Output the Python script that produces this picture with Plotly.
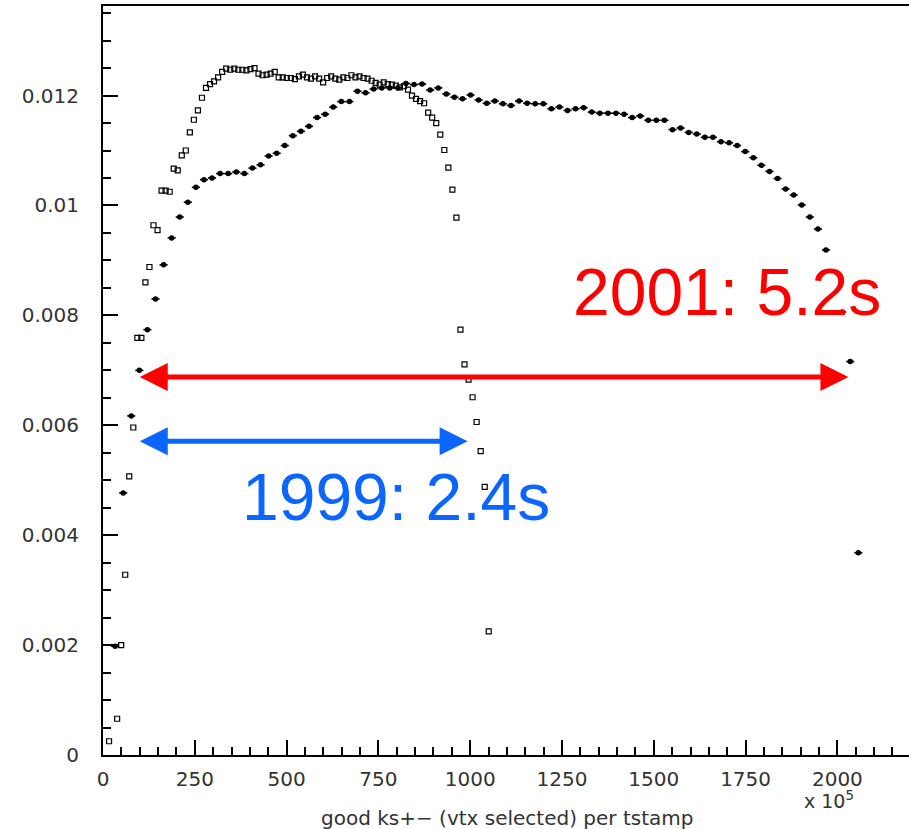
import plotly.graph_objects as go

# ---------------------------------------------------------------------------
# Data: normalised distribution of good K_S -> pi+ pi- (vertex selected)
# per timestamp, x in units of 1e5.  Bin contents listed from bin index 1.
# ---------------------------------------------------------------------------
bin_width_1999 = 11.0
bin_width_2001 = 22.0

y_1999 = [
    0.00025, None, 0.00066, 0.00200, 0.00328, 0.00507, 0.00596, 0.00759, 0.00759, 0.00860,
    0.00888, 0.00964, 0.00955, 0.01027, 0.01027, 0.01025, 0.01067, 0.01064, 0.01091, 0.01100,
    0.01133, 0.01156, 0.01173, 0.01196, 0.01214, 0.01221, 0.01226, 0.01233, 0.01243, 0.01249,
    0.01247, 0.01249, 0.01247, 0.01247, 0.01246, 0.01248, 0.01250, 0.01240, 0.01237, 0.01238,
    0.01240, 0.01243, 0.01233, 0.01233, 0.01232, 0.01232, 0.01230, 0.01235, 0.01238, 0.01233,
    0.01231, 0.01235, 0.01231, 0.01224, 0.01232, 0.01235, 0.01231, 0.01229, 0.01233, 0.01232,
    0.01237, 0.01233, 0.01235, 0.01232, 0.01231, 0.01227, 0.01223, 0.01220, 0.01224, 0.01221,
    0.01220, 0.01218, 0.01215, 0.01217, 0.01211, 0.01200, 0.01194, 0.01190, 0.01186, 0.01169,
    0.01160, 0.01150, 0.01129, 0.01101, 0.01069, 0.01029, 0.00978, 0.00774, 0.00711, 0.00683,
    0.00651, 0.00606, 0.00553, 0.00488, 0.00225,
]

y_2001 = [
    0.00198, 0.00477, 0.00617, 0.00700, 0.00774, 0.00830, 0.00892, 0.00941, 0.00979, 0.01006,
    0.01033, 0.01047, 0.01050, 0.01058, 0.01058, 0.01061, 0.01058, 0.01068, 0.01074, 0.01090,
    0.01095, 0.01109, 0.01127, 0.01135, 0.01144, 0.01160, 0.01166, 0.01179, 0.01189, 0.01189,
    0.01208, 0.01205, 0.01212, 0.01214, 0.01214, 0.01214, 0.01222, 0.01220, 0.01221, 0.01210,
    0.01214, 0.01203, 0.01197, 0.01194, 0.01201, 0.01192, 0.01186, 0.01190, 0.01185, 0.01182,
    0.01190, 0.01186, 0.01185, 0.01185, 0.01176, 0.01179, 0.01173, 0.01176, 0.01178, 0.01170,
    0.01168, 0.01168, 0.01168, 0.01166, 0.01160, 0.01163, 0.01155, 0.01155, 0.01155, 0.01138,
    0.01141, 0.01133, 0.01130, 0.01124, 0.01124, 0.01116, 0.01114, 0.01109, 0.01098, 0.01087,
    0.01073, 0.01062, 0.01049, 0.01030, 0.01019, 0.01001, 0.00979, 0.00957, 0.00919, None,
    0.00806, 0.00716, 0.00368,
]

xtick_vals = [0, 250, 500, 750, 1000, 1250, 1500, 1750, 2000]
xtick_text = ["0", "250", "500", "750", "1000", "1250", "1500", "1750", "2000"]
ytick_vals = [0, 0.002, 0.004, 0.006, 0.008, 0.010, 0.012]
ytick_text = ["0", "0.002", "0.004", "0.006", "0.008", "0.01", "0.012"]

# arrows marking the usable spill length of each run: (x_start, x_end, y)
arrow_2001 = (100, 2030, 0.00688)
arrow_1999 = (100, 993, 0.00571)
label_2001 = ("2001: 5.2s", 1698, 0.00842)
label_1999 = ("1999: 2.4s", 799, 0.00469)

RED = "#ff0000"
BLUE = "#0a66ff"


def bin_points(values, width):
    xs, ys = [], []
    for i, v in enumerate(values, start=1):
        if v is not None:
            xs.append(width * (i + 0.5))
            ys.append(v)
    return xs, ys


x99, v99 = bin_points(y_1999, bin_width_1999)
x01, v01 = bin_points(y_2001, bin_width_2001)

fig = go.Figure()

fig.add_trace(go.Scatter(
    x=x01, y=v01, mode="markers",
    marker=dict(symbol="circle", size=5.5, color="black"),
    error_x=dict(type="constant", value=bin_width_2001 / 2, thickness=1.6,
                 width=0, color="black"),
    showlegend=False, cliponaxis=False,
))

fig.add_trace(go.Scatter(
    x=x99, y=v99, mode="markers",
    marker=dict(symbol="square-open", size=5, color="black",
                line=dict(width=1.2, color="black")),
    showlegend=False, cliponaxis=False,
))

# scale factors to size the arrow heads in pixels
X_RANGE = (0, 2195)
Y_RANGE = (0, 0.01363)
PLOT_W, PLOT_H = 806, 749
ux = (X_RANGE[1] - X_RANGE[0]) / PLOT_W
uy = (Y_RANGE[1] - Y_RANGE[0]) / PLOT_H
HEAD_LEN, HEAD_HALF = 28, 14


def add_double_arrow(x0, x1, y, color):
    fig.add_shape(type="line", x0=x0 + HEAD_LEN * ux * 0.5, x1=x1 - HEAD_LEN * ux * 0.5,
                  y0=y, y1=y, line=dict(color=color, width=5))
    hl, hh = HEAD_LEN * ux, HEAD_HALF * uy
    left = f"M {x0},{y} L {x0 + hl},{y + hh} L {x0 + hl},{y - hh} Z"
    right = f"M {x1},{y} L {x1 - hl},{y + hh} L {x1 - hl},{y - hh} Z"
    for p in (left, right):
        fig.add_shape(type="path", path=p, fillcolor=color,
                      line=dict(color=color, width=0))


add_double_arrow(*arrow_2001, RED)
add_double_arrow(*arrow_1999, BLUE)

big_font = "Liberation Sans"
for (txt, lx, ly), col in ((label_2001, RED), (label_1999, BLUE)):
    fig.add_annotation(x=lx, y=ly, text=txt, showarrow=False,
                       xanchor="center", yanchor="middle",
                       font=dict(family=big_font, size=66, color=col))

tick_font = dict(family="DejaVu Sans", size=20, color="#333333")

fig.add_annotation(xref="paper", yref="paper", x=0.501, y=-0.0845,
                   text="good ks+\u2212 (vtx selected) per tstamp", showarrow=False,
                   xanchor="center", yanchor="middle",
                   font=dict(family="DejaVu Sans", size=20, color="#333333"))
fig.add_annotation(xref="paper", yref="paper", x=0.9007, y=-0.0600,
                   text="x 10<sup>5</sup>", showarrow=False,
                   xanchor="center", yanchor="middle",
                   font=dict(family="DejaVu Sans", size=19, color="#333333"))

axis_common = dict(
    showline=True, linecolor="black", linewidth=2,
    ticks="inside", tickcolor="black", tickwidth=1.5, ticklen=15,
    showgrid=False, zeroline=False, tickfont=tick_font,
)

fig.update_xaxes(
    range=list(X_RANGE), tickvals=xtick_vals, ticktext=xtick_text,
    mirror=True, ticklabelstandoff=5,
    minor=dict(ticks="inside", ticklen=8, tickwidth=1.5, tickcolor="black",
               dtick=50, tick0=0, showgrid=False),
    **axis_common,
)
fig.update_yaxes(
    range=list(Y_RANGE), tickvals=ytick_vals, ticktext=ytick_text,
    ticklabelstandoff=18,
    minor=dict(ticks="inside", ticklen=8, tickwidth=1.5, tickcolor="black",
               dtick=0.0005, tick0=0, showgrid=False),
    **axis_common,
)

fig.update_layout(
    width=909, height=829,
    margin=dict(l=103, r=0, t=6, b=74),
    plot_bgcolor="white", paper_bgcolor="white",
    showlegend=False,
)

fig.write_html("out.html")
